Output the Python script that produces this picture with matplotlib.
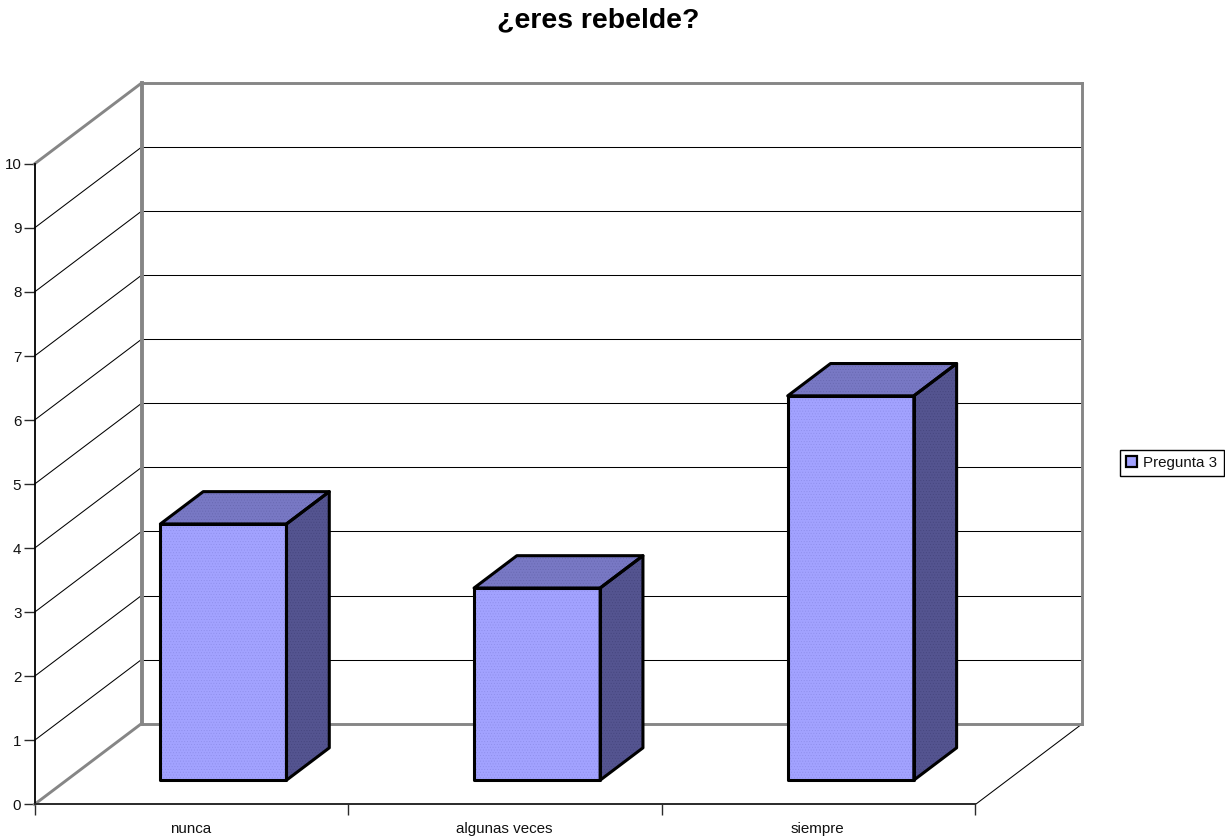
import matplotlib
matplotlib.use("Agg")
import matplotlib.pyplot as plt
from matplotlib.patches import Patch

plt.rcParams['font.family'] = ['Liberation Sans', 'DejaVu Sans']
plt.rcParams['hatch.linewidth'] = 0.3

title = "¿eres rebelde?"
categories = ["nunca", "algunas veces", "siempre"]
values = [4, 3, 6]
series = "Pregunta 3"
yticks = list(range(0, 11))

W, H = 1225, 839
fig = plt.figure(figsize=(W/100, H/100), dpi=100, facecolor='white')
# axes = front plane of the 3D box
L, R, B, T = 34.5, 975.5, 804.4, 163.9
ax = fig.add_axes([L/W, 1-B/H, (R-L)/W, (B-T)/H])
ax.set_xlim(0, 3)
ax.set_ylim(0, 10)
ax.patch.set_alpha(0)
for s in ax.spines.values():
    s.set_visible(False)

# oblique depth vector, in data units
DX = 107/(R-L)*3
DY = 80.8/((B-T)/10)

def P(x, v, d):
    return x + d*DX, v + d*DY

def line(pts, **kw):
    xs, ys = zip(*pts)
    ax.plot(xs, ys, clip_on=False, solid_capstyle='projecting', **kw)

GREY = '#868686'
DARK = '#2a2a2a'
# gridlines on the side and back walls
for v in yticks[1:-1]:
    line([P(0, v, 0), P(0, v, 1)], color='black', lw=0.75, zorder=1)
    line([P(0, v, 1), P(3, v, 1)], color='black', lw=0.75, zorder=1)
# walls
line([P(0, 10, 0), P(0, 10, 1)], color=GREY, lw=2.1, zorder=2)
line([P(0, 10, 1), P(3, 10, 1)], color=GREY, lw=2.1, zorder=2)
line([P(3, 10, 1), P(3, 0, 1)], color=GREY, lw=2.1, zorder=2)
line([P(0, 10, 1), P(0, 0, 1)], color=GREY, lw=2.8, zorder=2)
line([P(0, 0, 0), P(0, 0, 1)], color=GREY, lw=2.1, zorder=2)
line([P(0, 0, 1), P(3, 0, 1)], color=GREY, lw=2.1, zorder=2)
line([P(3, 0, 0), P(3, 0, 1)], color='black', lw=0.75, zorder=1)
# front axes
line([(0, 0), (0, 10)], color='black', lw=1.3, zorder=3)
line([(0, 0), (3, 0)], color=DARK, lw=1.4, zorder=3)

ax.set_yticks(yticks)
ax.set_yticklabels([str(v) for v in yticks])
ax.set_xticks([0, 1, 2, 3])
ax.set_xticklabels([])
ax.tick_params(axis='y', length=8, width=1, color=DARK, labelsize=10.9, pad=1.5, labelcolor='#111111')
ax.tick_params(axis='x', length=8, width=1, color=DARK)
for i, c in enumerate(categories):
    ax.annotate(c, xy=(i+0.5, 0), xytext=(-0.8, -20.3), textcoords='offset points',
                ha='center', va='baseline', fontsize=10.9, color='#111111', annotation_clip=False)

# bars
BW, D0, D1 = 0.402, 0.3, 0.7
FRONT, TOP, SIDE = '#A2A2FF', '#7878C4', '#545490'
FRONT_H, TOP_H, SIDE_H = '#8C8CE8', '#6666AE', '#44447C'

def face(pts, color, dots):
    xs, ys = zip(*pts)
    ax.fill(xs, ys, facecolor=color, edgecolor=dots, hatch='......', lw=0, zorder=5, clip_on=False)
    ax.fill(xs, ys, facecolor='none', edgecolor='black', lw=2.2, joinstyle='round', zorder=6, clip_on=False)

for i, v in enumerate(values):
    x0, x1 = i+0.5-BW/2, i+0.5+BW/2
    face([P(x1, 0, D0), P(x1, 0, D1), P(x1, v, D1), P(x1, v, D0)], SIDE, SIDE_H)
    face([P(x0, v, D0), P(x1, v, D0), P(x1, v, D1), P(x0, v, D1)], TOP, TOP_H)
    face([P(x0, 0, D0), P(x1, 0, D0), P(x1, v, D0), P(x0, v, D0)], FRONT, FRONT_H)

fig.text(598/W, 1-27/H, title, ha='center', va='baseline', fontsize=20.4, fontweight='bold', color='black')

handle = Patch(facecolor=FRONT, edgecolor='black', lw=1.6)
leg = fig.legend([handle], [series], loc='center right', bbox_to_anchor=(1223.5/W, 1-463/H),
                 bbox_transform=fig.transFigure, fontsize=10.9, fancybox=False, framealpha=1,
                 edgecolor='black', handlelength=0.7, handleheight=0.7, handletextpad=0.4,
                 borderpad=0.42, borderaxespad=0, labelcolor='#111111')
leg.get_frame().set_linewidth(1)

fig.savefig('out.png', dpi=100)
